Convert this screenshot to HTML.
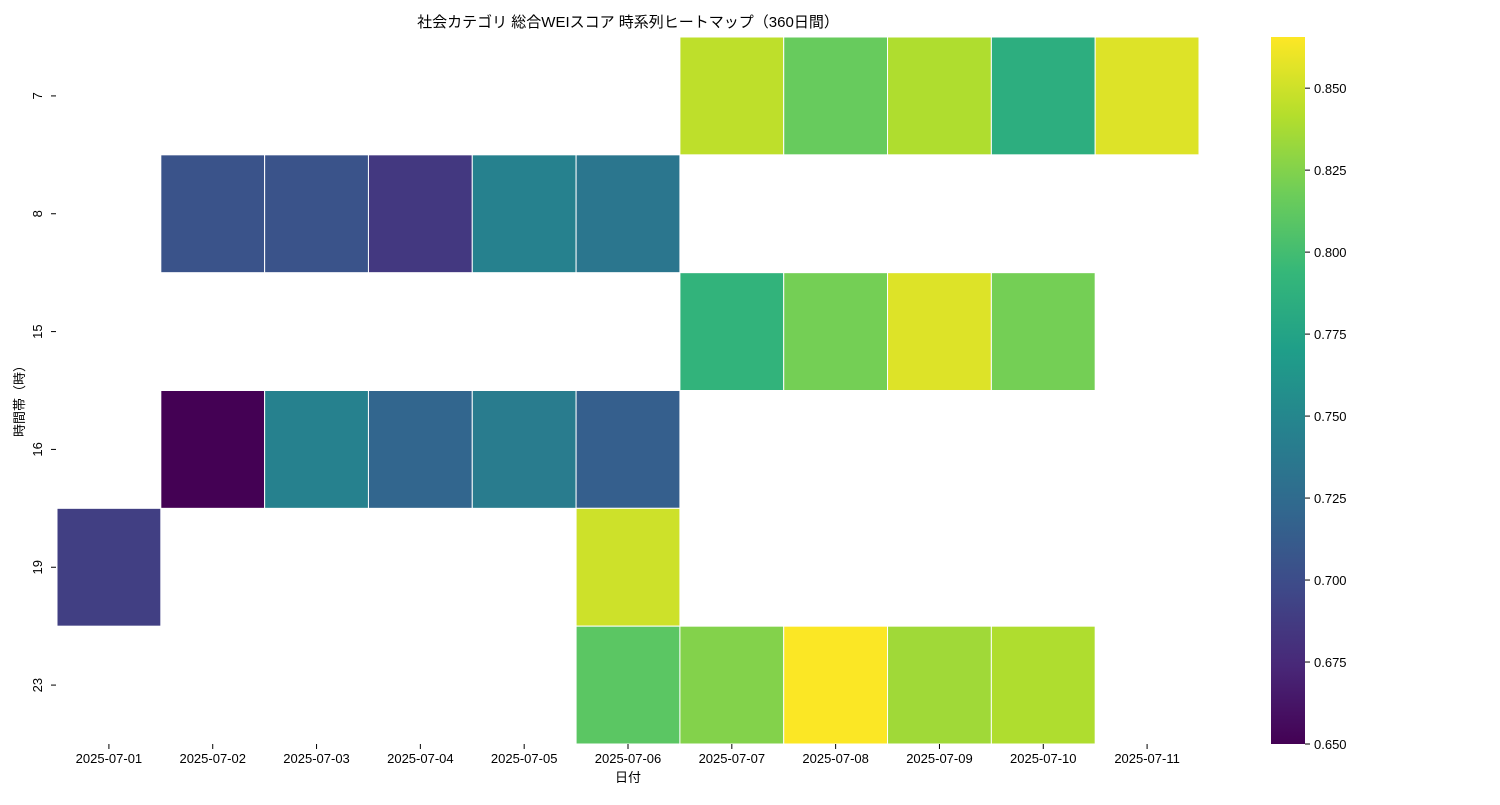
<!DOCTYPE html>
<html><head><meta charset="utf-8"><style>
body{margin:0;background:#fff}
svg{font-family:"Liberation Sans","Noto Sans CJK JP",sans-serif}
</style></head><body>
<svg id="chart" width="1500" height="800">
<text x="628" y="27" font-size="15" text-anchor="middle">社会カテゴリ 総合WEIスコア 時系列ヒートマップ（360日間）</text>
<text x="628" y="782" font-size="13" text-anchor="middle">日付</text>
<text transform="translate(24,398) rotate(-90)" font-size="13" text-anchor="middle">時間帯（時）</text>
<defs><linearGradient id="vir" x1="0" y1="1" x2="0" y2="0"></linearGradient></defs>
</svg>
<script>
const dates=["2025-07-01","2025-07-02","2025-07-03","2025-07-04","2025-07-05","2025-07-06","2025-07-07","2025-07-08","2025-07-09","2025-07-10","2025-07-11"];
const hours=["7","8","15","16","19","23"];
const cells=[
["7","2025-07-07",0.845],["7","2025-07-08",0.815],["7","2025-07-09",0.840],["7","2025-07-10",0.785],["7","2025-07-11",0.855],
["8","2025-07-02",0.705],["8","2025-07-03",0.705],["8","2025-07-04",0.685],["8","2025-07-05",0.745],["8","2025-07-06",0.735],
["15","2025-07-07",0.790],["15","2025-07-08",0.820],["15","2025-07-09",0.855],["15","2025-07-10",0.820],
["16","2025-07-02",0.650],["16","2025-07-03",0.745],["16","2025-07-04",0.720],["16","2025-07-05",0.740],["16","2025-07-06",0.715],
["19","2025-07-01",0.690],["19","2025-07-06",0.850],
["23","2025-07-06",0.810],["23","2025-07-07",0.825],["23","2025-07-08",0.865],["23","2025-07-09",0.835],["23","2025-07-10",0.840]];
const cbTicks=[0.650,0.675,0.700,0.725,0.750,0.775,0.800,0.825,0.850];
const vmin=0.65,vmax=0.8656;
const L=57,R=1199,T=37,B=744;
const cw=(R-L)/dates.length,rh=(B-T)/hours.length;
const xs=d=>L+dates.indexOf(d)*cw, ys=h=>T+hours.indexOf(h)*rh;
const vstops=[[68,1,84],[72,40,120],[62,74,137],[49,104,142],[38,130,142],[31,158,137],[53,183,121],[109,205,89],[180,222,44],[253,231,37]];
function vir(t){t=Math.max(0,Math.min(1,t));const p=t*(vstops.length-1),i=Math.min(Math.floor(p),vstops.length-2),f=p-i;const a=vstops[i],b=vstops[i+1];return `rgb(${a.map((v,k)=>Math.round(v+(b[k]-v)*f)).join(',')})`;}
const svg=document.getElementById('chart'),NS='http://www.w3.org/2000/svg';
function mk(t,at,txt){const e=document.createElementNS(NS,t);for(const k in at)e.setAttribute(k,at[k]);if(txt!==undefined)e.textContent=txt;svg.appendChild(e);return e;}
cells.forEach(c=>{const e=mk('rect',{x:xs(c[1]),y:ys(c[0]),width:cw,height:rh,fill:vir((c[2]-vmin)/(vmax-vmin)),stroke:'#fff','stroke-width':1});

});
dates.forEach(d=>{const x=xs(d)+cw/2;mk('line',{x1:x,x2:x,y1:B,y2:B+5,stroke:'#000'});const t=mk('text',{x:x,y:B+19,'font-size':13,'text-anchor':'middle'},d);

});
hours.forEach(h=>{const y=ys(h)+rh/2;mk('line',{x1:L-6,x2:L-1,y1:y,y2:y,stroke:'#000'});const t=mk('text',{transform:`translate(42,${y}) rotate(-90)`,'font-size':13,'text-anchor':'middle'},h);

});
const g=document.getElementById('vir');
vstops.forEach((s,i)=>{const st=document.createElementNS(NS,'stop');st.setAttribute('offset',i/(vstops.length-1));st.setAttribute('stop-color',`rgb(${s.join(',')})`);g.appendChild(st);});
const cb=mk('rect',{x:1271,y:T,width:34,height:B-T,fill:'url(#vir)'});


const cy=v=>B-(v-vmin)/(vmax-vmin)*(B-T);
cbTicks.forEach(v=>{const y=cy(v);mk('line',{x1:1305,x2:1310,y1:y,y2:y,stroke:'#000'});const t=mk('text',{x:1314,y:y+5,'font-size':13},v.toFixed(3));

});
</script>
</body></html>
